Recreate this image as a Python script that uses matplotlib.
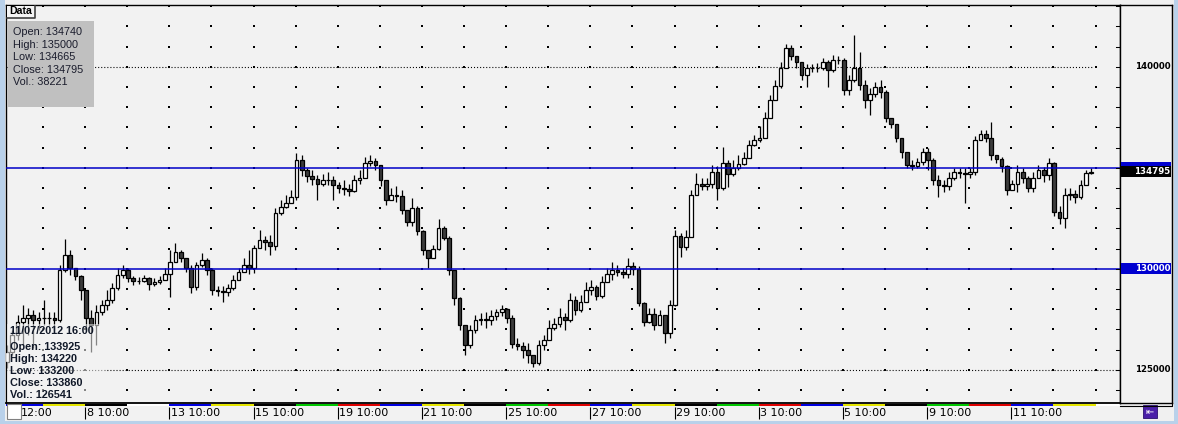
import matplotlib
matplotlib.use("Agg")
import matplotlib.pyplot as plt
from matplotlib.patches import Rectangle

plt.rcParams['lines.scale_dashes'] = False

# ---------------- data ----------------
first_open = 125380
closes = [
    125880, 126720, 127360, 127560, 127710, 127460, 127560, 127560, 127560, 127460,
    129940, 130680, 130030, 129640, 128950, 127560, 127210, 127860, 128200, 128450,
    129040, 129690, 129940, 129540, 129390, 129390, 129540, 129240, 129340, 129440,
    129740, 130330, 130830, 130530, 130030, 129090, 130180, 130430, 129940, 128950,
    128900, 128850, 129040, 129440, 129840, 130180, 130030, 131020, 131420, 131320,
    131120, 132760, 133050, 133250, 133550, 135380, 134890, 134590, 134440, 134190,
    134390, 134390, 134140, 133990, 133940, 133850, 134390, 134490, 135230, 135330,
    135130, 134390, 133400, 133650, 133600, 132910, 132310, 133000, 131870, 130930,
    130530, 130970, 132010, 131520, 129940, 128550, 127210, 126220, 126970, 127460,
    127510, 127460, 127660, 127860, 128000, 127560, 126270, 126170, 125980, 125730,
    125330, 126220, 126470, 127060, 127260, 127610, 127460, 128450, 127960, 128350,
    128950, 129090, 128650, 129340, 129740, 129940, 129840, 129740, 130130, 129980,
    128300, 127360, 127760, 127210, 127710, 126820, 128200, 131620, 131070, 131570,
    133650, 134190, 134090, 134190, 134790, 133990, 135230, 134690, 134980, 135180,
    135480, 136120, 136370, 136470, 137460, 138350, 139040, 139930, 140920, 140530,
    140230, 139590, 139930, 139930, 139930, 140230, 139840, 140330, 140330, 138850,
    139340, 139930, 139090, 138350, 138650, 138990, 138750, 137460, 137160, 136470,
    135780, 135130, 135080, 135280, 135780, 135380, 134390, 134140, 134090, 134490,
    134790, 134740, 134690, 134790, 136370, 136670, 136470, 135630, 135430, 135080,
    133900, 134190, 134790, 134490, 133990, 134490, 134890, 134640, 135230, 132810,
    132510, 133650, 133700, 133550, 134140, 134740, 134795,
]
highs = [
    126220, 126970, 127710, 128200, 128050, 127960, 127860, 128450, 127860, 127860,
    130180, 131470, 130930, 129940, 129690, 128950, 127960, 128200, 128450, 128950,
    129290, 130030, 130180, 130030, 129640, 129590, 129690, 129590, 129540, 129640,
    130030, 130930, 131270, 130930, 130530, 130180, 130330, 130780, 130530, 130030,
    129140, 129140, 129240, 129690, 130030, 130530, 130930, 131170, 131920, 131620,
    131670, 133000, 133400, 133650, 133900, 135730, 135630, 134980, 134890, 134640,
    134690, 134790, 134590, 134290, 134390, 134190, 134640, 134890, 135530, 135630,
    135480, 135130, 134290, 133990, 134090, 133900, 132910, 133500, 133100, 131920,
    130930, 131170, 132460, 132110, 131620, 129940, 128600, 127210, 127210, 127710,
    127810, 127860, 127960, 128000, 128200, 128050, 127710, 126570, 126370, 126320,
    125730, 126470, 126720, 127460, 127560, 128050, 127810, 128800, 128650, 128700,
    129340, 129440, 129190, 129640, 130030, 130330, 130180, 130030, 130530, 130330,
    130130, 128350, 128050, 128050, 127960, 127710, 128450, 131920, 131770, 131920,
    133900, 134740, 134490, 134490, 135130, 135080, 136020, 135380, 135380, 135630,
    135780, 136370, 136620, 137060, 137760, 138600, 139340, 140230, 141120, 141070,
    140530, 140230, 140130, 140130, 140180, 140430, 140330, 140580, 140530, 140430,
    139590, 141570, 140730, 139340, 138940, 139240, 139340, 138850, 137460, 137110,
    136470, 135780, 135380, 135480, 135970, 135970, 135480, 134640, 134390, 134790,
    134980, 134980, 134980, 134980, 136570, 136870, 136870, 137260, 135630, 135530,
    135130, 134390, 135130, 134980, 134590, 134790, 135130, 135030, 135480, 135280,
    133100, 133990, 133990, 133900, 134390, 134890, 135000,
]
lows = [
    125080, 125730, 126470, 126220, 126720, 126070, 126970, 127210, 127210, 126970,
    127360, 129840, 129690, 129440, 128450, 126970, 125880, 126220, 127710, 127960,
    128300, 128950, 129540, 129340, 129190, 129240, 129340, 128950, 129140, 129240,
    129440, 128600, 130330, 130330, 129840, 128800, 128950, 130080, 129690, 128700,
    128650, 128350, 128650, 128950, 129440, 129940, 129740, 129790, 131020, 130930,
    130680, 130930, 132660, 133000, 133250, 133400, 134590, 134290, 134140, 133400,
    134090, 134140, 133400, 133750, 133650, 133600, 133800, 134190, 134490, 135080,
    134890, 134090, 133150, 133400, 133300, 132710, 132110, 132110, 131670, 130680,
    130030, 130530, 130930, 131420, 129690, 128200, 126970, 125730, 126070, 126820,
    127210, 127060, 127210, 127460, 127660, 127310, 126070, 125980, 125580, 125330,
    125130, 125230, 125980, 126620, 126970, 127110, 126970, 127360, 127710, 127860,
    128350, 128700, 128450, 128550, 129340, 129440, 129640, 129540, 129540, 129690,
    128150, 127160, 127310, 126970, 127360, 126320, 126570, 128150, 130580, 130930,
    131670, 133650, 133900, 133900, 133990, 133400, 133900, 134040, 134590, 134890,
    135130, 135630, 136070, 136270, 136470, 137860, 138350, 138940, 140330, 140330,
    139930, 139340, 138990, 139740, 139740, 139840, 138990, 139740, 140130, 138600,
    138600, 139240, 138850, 137950, 137610, 138500, 138450, 137260, 136960, 136270,
    135480, 134980, 134890, 134980, 135130, 134890, 134140, 133550, 133800, 133900,
    134390, 134490, 133250, 134490, 134640, 136370, 136270, 135380, 135230, 134790,
    133650, 133900, 133800, 134240, 133800, 133800, 134640, 134290, 134390, 132610,
    132210, 132010, 133400, 133250, 133450, 134290, 134665,
]

bar_start_day = -0.855
bars_per_day = 8

first_label = "12:00"
tick_days = [1, 3, 5, 7, 9, 11, 13, 15, 17, 19, 21, 23]
tick_labels = ["8 10:00", "13 10:00", "15 10:00", "19 10:00", "21 10:00", "25 10:00",
               "27 10:00", "29 10:00", "3 10:00", "5 10:00", "9 10:00", "11 10:00"]
day_colors = ["blue", "yellow", "black", "white", "blue", "yellow", "black", "green", "red",
              "blue", "yellow", "black", "green", "red", "blue", "yellow", "black", "green",
              "red", "blue", "yellow", "black", "green", "red", "blue", "yellow", "white"]

info_top = ["Open: 134740", "High: 135000", "Low: 134665", "Close: 134795", "Vol.: 38221"]
info_bottom_title = "11/07/2012 16:00"
info_bottom = ["Open: 133925", "High: 134220", "Low: 133200", "Close: 133860", "Vol.: 126541"]

blue_levels = [135000, 130000]
blue_labelled = [130000]
dotted_levels = [140000, 125000]
axis_labels = [140000, 125000]
last_price = 134795
grid_prices = list(range(124000, 143001, 1000))
grid_days = list(range(0, 26))

# ---------------- layout ----------------
W, H = 1178, 424
PX_PER_DAY = 42.1
X0_PX = 43.0
PRICE_PX = 0.0202
P_REF, P_REF_PX = 130000, 268.7


def px2day(px):
    return (px - X0_PX) / PX_PER_DAY


def px2price(py):
    return P_REF + (P_REF_PX - py) / PRICE_PX


def fbox(x0, y0, x1, y1):
    return [x0 / W, 1 - y1 / H, (x1 - x0) / W, (y1 - y0) / H]


XL = (px2day(6), px2day(1120))
YL = (px2price(403), px2price(5))
BG = '#f2f2f2'
COLMAP = {"blue": "#0000e0", "yellow": "#e6e600", "black": "#000000", "white": "#ffffff",
          "green": "#00c800", "red": "#e00000"}

fig = plt.figure(figsize=(W / 100, H / 100), dpi=100)
fig.patch.set_facecolor('#f0f0f0')

# window frame decoration
deco = fig.add_axes([0, 0, 1, 1], zorder=0)
deco.set_xlim(0, W)
deco.set_ylim(H, 0)
deco.axis('off')
deco.add_patch(Rectangle((0, 0), 5, H, fc='#b9d1ea', ec='none'))
deco.add_patch(Rectangle((0, 421), W, 3, fc='#b9d1ea', ec='none'))
deco.add_patch(Rectangle((1174, 0), 4, H, fc='#b9d1ea', ec='none'))

# main price axes
ax = fig.add_axes(fbox(6, 5, 1120, 403), zorder=2)
ax.set_facecolor(BG)
ax.set_xlim(*XL)
ax.set_ylim(*YL)
ax.set_xticks([])
ax.set_yticks([])
for s in ax.spines.values():
    s.set_color('black')
    s.set_linewidth(1.0)
ax.spines['bottom'].set_linewidth(1.3)

# grid dots
gx = [d for d in grid_days for p in grid_prices]
gy = [p for d in grid_days for p in grid_prices]
ax.scatter(gx, gy, s=0.6, marker='s', c='black', linewidths=0, zorder=1)

# dotted levels
ax.hlines(dotted_levels[0], XL[0], px2day(1092), colors='black', lw=0.8,
          linestyles=(0, (0.75, 1.45)), zorder=2)
ax.hlines(dotted_levels[1], XL[0], XL[1], colors='black', lw=0.8,
          linestyles=(0, (0.75, 1.45)), zorder=2)

# candles
n = len(closes)
opens = [first_open] + closes[:-1]
xs = [bar_start_day + i / bars_per_day for i in range(n)]
bw = 3.7 / PX_PER_DAY
his = [max(h, o, c) for h, o, c in zip(highs, opens, closes)]
los = [min(l, o, c) for l, o, c in zip(lows, opens, closes)]
ax.vlines(xs, los, his, color='black', lw=0.9, zorder=3)
for x, o, c in zip(xs, opens, closes):
    up = c >= o
    lo, hi = min(o, c), max(o, c)
    ax.add_patch(Rectangle((x - bw / 2, lo), bw, max(hi - lo, 20),
                           fc='white' if up else '#3c3c3c', ec='black', lw=0.9, zorder=4))

# blue levels
for lv in blue_levels:
    ax.axhline(lv, color='#0000c8', lw=1.1, zorder=5)

# right tick marks
ytr = ax.get_yaxis_transform()
for p in grid_prices:
    ax.plot([1 - 4 / 1114, 1], [p, p], color='black', lw=0.75, transform=ytr,
            clip_on=False, zorder=6)

# right price axis
rax = fig.add_axes(fbox(1120, 5, 1172, 403), zorder=2)
rax.set_facecolor(BG)
rax.set_xlim(0, 1)
rax.set_ylim(*YL)
rax.set_xticks([])
rax.set_yticks([])
for s in rax.spines.values():
    s.set_color('black')
    s.set_linewidth(1.0)
rtr = rax.get_yaxis_transform()
half = 5.5 / PRICE_PX
for p in axis_labels:
    rax.text(0.965, p, f"{p}", transform=rtr, ha='right', va='center',
             fontsize=6.2, fontweight='bold', color='black', family='DejaVu Sans')
for lv in blue_levels:
    rax.add_patch(Rectangle((0.01, lv - half), 0.98, 2 * half, transform=rtr,
                            fc='#0000d0', ec='none', zorder=3))
for lv in blue_labelled:
    rax.text(0.965, lv, f"{lv}", transform=rtr, ha='right', va='center',
             fontsize=6.2, fontweight='bold', color='white', zorder=4)
rax.add_patch(Rectangle((0.01, last_price - half), 0.98, 2 * half, transform=rtr,
                        fc='black', ec='none', zorder=5))
rax.text(0.965, last_price, f"{last_price}", transform=rtr, ha='right', va='center',
         fontsize=6.2, fontweight='bold', color='white', zorder=6)

# time axis
tax = fig.add_axes(fbox(6, 403, 1120, 420), zorder=1)
tax.set_facecolor(BG)
tax.set_xlim(*XL)
tax.set_ylim(17, 0)
tax.axis('off')
tax.add_patch(Rectangle((XL[0], 0), XL[1] - XL[0], 17, fc=BG, ec='none', zorder=0))
for i, cname in enumerate(day_colors):
    d0 = max(-1 + i, XL[0])
    d1 = min(i, XL[1])
    if d1 > d0:
        tax.add_patch(Rectangle((d0, 1.0), d1 - d0, 2.3, fc=COLMAP[cname], ec='none', zorder=2))
tick_all = [px2day(19.5)] + tick_days
lab_all = [first_label] + tick_labels
tax.vlines(tick_all, 3.5, 16.0, colors='black', lw=0.8, zorder=3)
for d, lab in zip(tick_all, lab_all):
    tax.text(d + 1.5 / PX_PER_DAY, 10.3, lab, ha='left', va='center', fontsize=8,
             family='DejaVu Sans', color='black', zorder=4)

# overlay (pixel coordinates)
ov = fig.add_axes([0, 0, 1, 1], zorder=5)
ov.set_xlim(0, W)
ov.set_ylim(H, 0)
ov.axis('off')
ov.patch.set_alpha(0)

# Data tab
ov.add_patch(Rectangle((7, 5.5), 28, 12, fc='#f4f4f4', ec='none'))
ov.plot([35, 35, 7], [5.5, 17.5, 17.5], color='#404040', lw=1.2)
ov.text(9, 11.5, "Data", ha='left', va='center', fontsize=7.6, fontweight='bold',
        family='Liberation Sans', color='black')

# top-left info box
ov.add_patch(Rectangle((8, 21), 86, 86, fc='#c0c0c0', ec='none'))
for i, t in enumerate(info_top):
    ov.text(13, 32 + 12.6 * i, t, ha='left', va='center', fontsize=7.8,
            family='Liberation Sans', color='#1a1c2c')

# bottom-left data window
ov.add_patch(Rectangle((7, 324), 98, 78, fc=BG, ec='none', alpha=0.55))
ov.text(10, 331, info_bottom_title, ha='left', va='center', fontsize=7.8,
        fontweight='bold', family='Liberation Sans', color='#101828')
for i, t in enumerate(info_bottom):
    ov.text(10, 347 + 12 * i, t, ha='left', va='center', fontsize=7.8,
            fontweight='bold', family='Liberation Sans', color='#101828')

# bottom-left white box
ov.add_patch(Rectangle((6.5, 404), 14, 15, fc='white', ec='#808080', lw=0.8))

# right bottom area + icon
ov.plot([1120, 1172, 1172], [406, 406, 5], color='black', lw=0.8)
ov.add_patch(Rectangle((1143, 405), 14, 13, fc='#4a1fa8', ec='#2a1070', lw=0.6))
ov.text(1150, 411.5, "\u21e4", ha='center', va='center', fontsize=7, color='white',
        family='DejaVu Sans')

fig.savefig("out.png", dpi=100, facecolor=fig.get_facecolor())
